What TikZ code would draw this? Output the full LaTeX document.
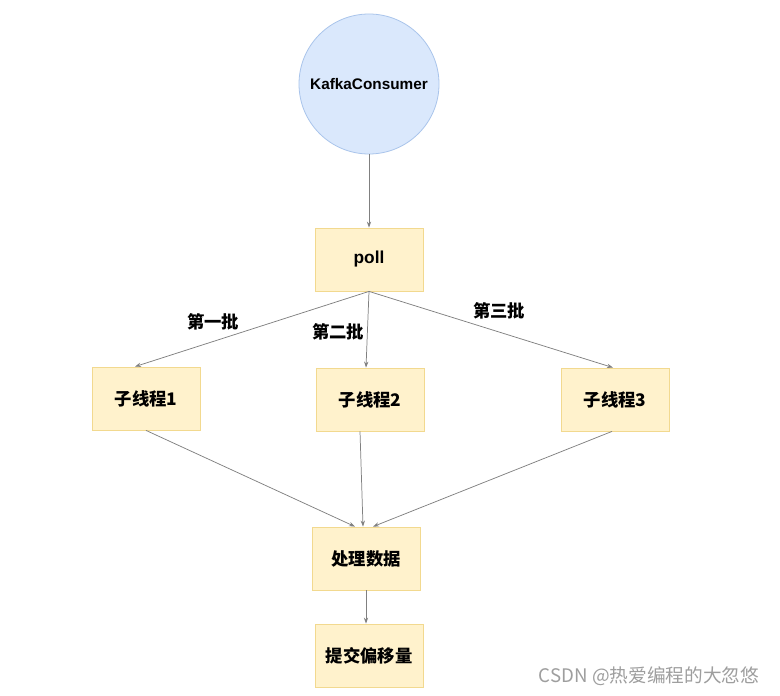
\documentclass[tikz,border=0pt]{standalone}
\usepackage{fontspec}
\setmainfont{Liberation Sans}
\newfontfamily\cjk{Noto Sans CJK SC}
\usetikzlibrary{arrows.meta}
\begin{document}
\begin{tikzpicture}[x=0.75pt,y=-0.75pt,
  box/.style={draw=boxline,fill=boxfill,line width=0.6pt,minimum width=81pt,minimum height=47.25pt,inner sep=0pt,font=\cjk\bfseries\fontsize{13}{15}\selectfont},
  flow/.style={draw=flowgray,line width=0.55pt,-{Stealth[length=4.5pt,width=3.2pt]}},
  batch/.style={font=\cjk\bfseries\fontsize{13}{15}\selectfont}]
  \definecolor{circfill}{RGB}{218,232,252}
  \definecolor{circline}{RGB}{169,196,235}
  \definecolor{boxfill}{RGB}{255,242,204}
  \definecolor{boxline}{RGB}{242,217,143}
  \definecolor{flowgray}{RGB}{128,128,128}
  \useasboundingbox[fill=white] (0,0) rectangle (780,695);
  \node[circle,draw=circline,fill=circfill,line width=0.6pt,minimum size=105pt,inner sep=0pt,font=\bfseries\fontsize{11.5}{13}\selectfont] (kafka) at (369,84) {KafkaConsumer};
  \node[box,font=\bfseries\fontsize{13}{15}\selectfont] (poll) at (369,259.5) {poll};
  \node[box] (sub1) at (146,398.5) {子线程1};
  \node[box] (sub2) at (370,399.5) {子线程2};
  \node[box] (sub3) at (615,399.5) {子线程3};
  \node[box] (proc) at (366,558.5) {处理数据};
  \node[box] (commit) at (369,655.5) {提交偏移量};
  \draw[flow] (kafka.south) -- (poll.north);
  \draw[flow] (poll.south) -- ([xshift=-8.25pt]sub1.north);
  \draw[flow] (poll.south) -- ([xshift=-3pt]sub2.north);
  \draw[flow] (poll.south) -- ([xshift=-1.5pt]sub3.north);
  \node[batch] (lbl1) at (213,322) {第一批};
  \node[batch] (lbl2) at (338,332) {第二批};
  \node[batch] (lbl3) at (499,311) {第三批};
  \draw[flow] (sub1.south) -- ([xshift=-8.25pt]proc.north);
  \draw[flow] ([xshift=-7.5pt]sub2.south) -- ([xshift=-2.25pt]proc.north);
  \draw[flow] ([xshift=-2.25pt]sub3.south) -- ([xshift=5.25pt]proc.north);
  \draw[flow] (proc.south) -- ([xshift=-2.25pt]commit.north);
  \node[text=black!38,font=\cjk\fontsize{14}{16}\selectfont] (mark) at (649,676) {CSDN @热爱编程的大忽悠};
\end{tikzpicture}
\end{document}
